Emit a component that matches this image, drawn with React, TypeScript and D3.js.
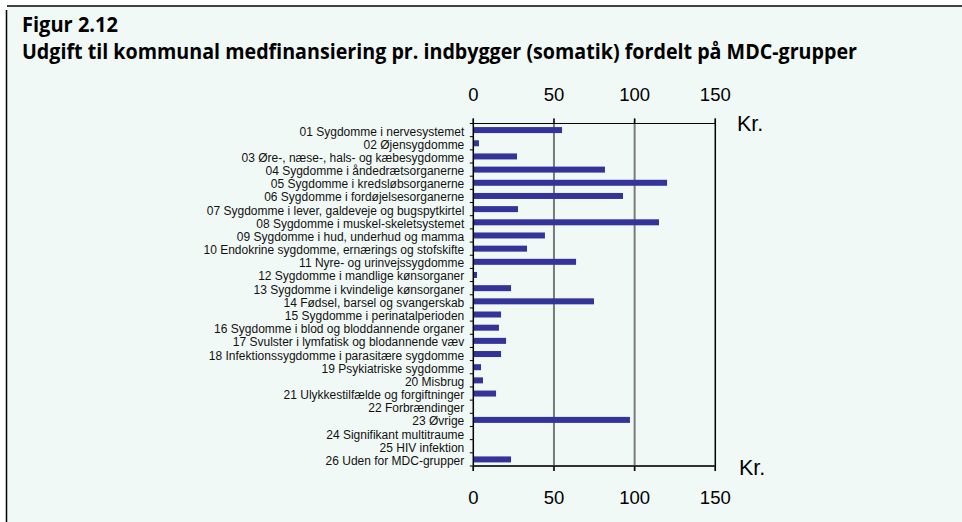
import React from "react";
import * as d3 from "d3";

const categories: string[] = [
  "01 Sygdomme i nervesystemet",
  "02 Øjensygdomme",
  "03 Øre-, næse-, hals- og kæbesygdomme",
  "04 Sygdomme i åndedrætsorganerne",
  "05 Sygdomme i kredsløbsorganerne",
  "06 Sygdomme i fordøjelsesorganerne",
  "07 Sygdomme i lever, galdeveje og bugspytkirtel",
  "08 Sygdomme i muskel-skeletsystemet",
  "09 Sygdomme i hud, underhud og mamma",
  "10 Endokrine sygdomme, ernærings og stofskifte",
  "11 Nyre- og urinvejssygdomme",
  "12 Sygdomme i mandlige kønsorganer",
  "13 Sygdomme i kvindelige kønsorganer",
  "14 Fødsel, barsel og svangerskab",
  "15 Sygdomme i perinatalperioden",
  "16 Sygdomme i blod og bloddannende organer",
  "17 Svulster i lymfatisk og blodannende væv",
  "18 Infektionssygdomme i parasitære sygdomme",
  "19 Psykiatriske sygdomme",
  "20 Misbrug",
  "21 Ulykkestilfælde og forgiftninger",
  "22 Forbrændinger",
  "23 Øvrige",
  "24 Signifikant multitraume",
  "25 HIV infektion",
  "26 Uden for MDC-grupper",
];

const values: number[] = [
  55.0, 3.5, 27.1, 81.6, 120.1, 92.8, 27.7, 115.1, 44.4, 33.3, 63.7, 2.3, 23.4,
  74.8, 17.2, 15.9, 20.3, 17.2, 4.8, 6.0, 14.1, 0, 97.1, 0, 0, 23.4,
];

const xTicks: number[] = [0, 50, 100, 150];
const titleLine1 = "Figur 2.12";
const titleLine2 =
  "Udgift til kommunal medfinansiering pr. indbygger (somatik) fordelt på MDC-grupper";
const unitLabel = "Kr.";

const W = 962;
const H = 522;

export default function App() {
  const x = d3.scaleLinear().domain([0, 150]).range([473.3, 715.3]);
  const y = d3
    .scaleBand<string>()
    .domain(categories)
    .range([123.5, 466])
    .padding(0);
  const bw = y.bandwidth();
  const barH = 6;
  const top = 123.5;
  const bottom = 466;
  const font = "'Liberation Sans', Arial, sans-serif";

  return (
    <svg
      width={W}
      height={H}
      style={{ position: "absolute", left: 0, top: 0, display: "block" }}
      fontFamily={font}
    >
      <rect x={0} y={0} width={W} height={H} fill="#ffffff" />
      <rect x={7} y={7} width={W - 7} height={H - 7} fill="#f1f9f6" />
      <line x1={7} x2={W} y1={6} y2={6} stroke="#000" strokeWidth={1.5} />
      <line x1={6.5} x2={6.5} y1={10} y2={H} stroke="#000" strokeWidth={1.5} />

      <text
        x={22}
        y={31.5}
        fontFamily="'Open Sans', sans-serif"
        fontWeight={700}
        fontSize={21}
        textLength={96}
        lengthAdjust="spacingAndGlyphs"
        fill="#000"
      >
        {titleLine1}
      </text>
      <text
        x={22}
        y={58.5}
        fontFamily="'Open Sans', sans-serif"
        fontWeight={700}
        fontSize={21}
        textLength={835}
        lengthAdjust="spacingAndGlyphs"
        fill="#000"
      >
        {titleLine2}
      </text>

      {/* gridlines */}
      {xTicks
        .filter((t) => t > 0 && t < 150)
        .map((t) => (
          <line
            key={"g" + t}
            x1={x(t)}
            x2={x(t)}
            y1={top - 5}
            y2={bottom + 5}
            stroke="#7a7a7a"
            strokeWidth={2}
          />
        ))}

      {/* bars */}
      {categories.map((c, i) => (
        <rect
          key={c}
          x={x(0)}
          y={(y(c) as number) + bw / 2 - barH / 2}
          width={Math.max(0, x(values[i]) - x(0))}
          height={barH}
          fill="#333399"
        />
      ))}

      {/* frame */}
      <line x1={x(0)} x2={x(150)} y1={top} y2={top} stroke="#000" strokeWidth={1} />
      <line x1={x(150)} x2={x(150)} y1={top - 5} y2={bottom + 5} stroke="#000" strokeWidth={1.5} />
      <line x1={x(0)} x2={x(0)} y1={top - 5} y2={bottom + 5} stroke="#000" strokeWidth={1.5} />
      <line x1={x(0)} x2={x(150)} y1={bottom} y2={bottom} stroke="#333" strokeWidth={2} />
      {xTicks.map((t) => (
        <g key={"t" + t}>
          <line x1={x(t)} x2={x(t)} y1={top - 5} y2={top} stroke="#000" strokeWidth={1.2} />
          <line x1={x(t)} x2={x(t)} y1={bottom} y2={bottom + 5} stroke="#000" strokeWidth={1.2} />
        </g>
      ))}

      {/* category ticks */}
      {categories.map((c) => (
        <line
          key={"ct" + c}
          x1={x(0) - 3.5}
          x2={x(0)}
          y1={(y(c) as number)}
          y2={(y(c) as number)}
          stroke="#000"
          strokeWidth={1}
        />
      ))}
      <line x1={x(0) - 3.5} x2={x(0)} y1={bottom} y2={bottom} stroke="#000" strokeWidth={1} />

      {/* category labels */}
      {categories.map((c) => (
        <text
          key={"l" + c}
          x={x(0) - 9}
          y={(y(c) as number) + bw / 2 + 5.5}
          textAnchor="end"
          fontSize={12}
          fill="#111"
        >
          {c}
        </text>
      ))}

      {/* axis tick labels */}
      {xTicks.map((t) => (
        <g key={"tl" + t}>
          <text x={x(t)} y={101} textAnchor="middle" fontSize={18.5} fill="#000">
            {t}
          </text>
          <text x={x(t)} y={504} textAnchor="middle" fontSize={18.5} fill="#000">
            {t}
          </text>
        </g>
      ))}

      <text x={737} y={131} fontSize={21.5} fill="#000">
        {unitLabel}
      </text>
      <text x={739} y={475} fontSize={21.5} fill="#000">
        {unitLabel}
      </text>
    </svg>
  );
}
